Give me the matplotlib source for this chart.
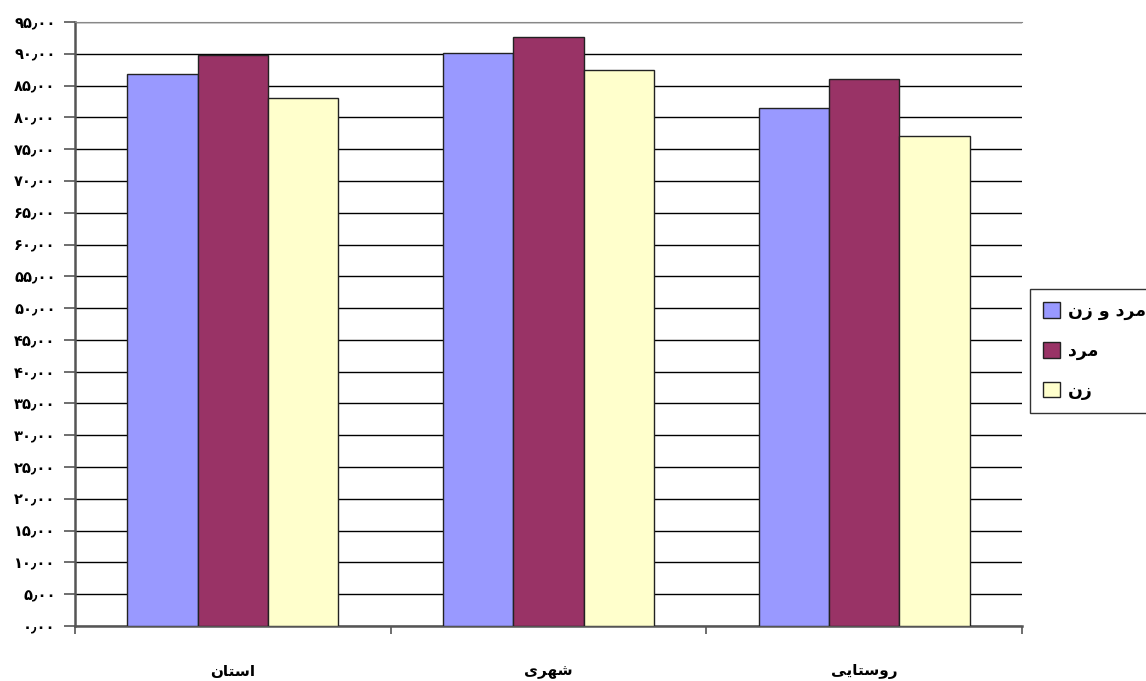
import numpy as np
import matplotlib
matplotlib.use('Agg')
import matplotlib.pyplot as plt
import matplotlib.patches as mpatches

# ── Data ───────────────────────────────────────────────────────────────────
categories = ['استان', 'شهری', 'روستایی']
series_names = ['مرد و زن', 'مرد', 'زن']
both_vals = [86.8, 90.1, 81.5]
men_vals = [89.8, 92.7, 86.0]
women_vals = [83.0, 87.4, 77.0]
y_ticks = list(range(0, 100, 5))

colors = ['#9999FF', '#993366', '#FFFFCC']

# ── minimal Persian shaping (matplotlib has no text shaping) ───────────────
FORMS = {  # isolated, final, initial, medial
    'ا': ('\uFE8D', '\uFE8E', None, None),
    'د': ('\uFEA9', '\uFEAA', None, None),
    'ر': ('\uFEAD', '\uFEAE', None, None),
    'ز': ('\uFEAF', '\uFEB0', None, None),
    'و': ('\uFEED', '\uFEEE', None, None),
    'س': ('\uFEB1', '\uFEB2', '\uFEB3', '\uFEB4'),
    'ش': ('\uFEB5', '\uFEB6', '\uFEB7', '\uFEB8'),
    'ت': ('\uFE95', '\uFE96', '\uFE97', '\uFE98'),
    'ن': ('\uFEE5', '\uFEE6', '\uFEE7', '\uFEE8'),
    'ه': ('\uFEE9', '\uFEEA', '\uFEEB', '\uFEEC'),
    'م': ('\uFEE1', '\uFEE2', '\uFEE3', '\uFEE4'),
    'ی': ('\uFEEF', '\uFEF0', '\uFEF3', '\uFEF4'),
}


def shape(text):
    out = []
    for i, ch in enumerate(text):
        if ch not in FORMS:
            out.append(ch)
            continue
        prev = text[i - 1] if i > 0 else ' '
        nxt = text[i + 1] if i + 1 < len(text) else ' '
        join_prev = prev in FORMS and FORMS[prev][2] is not None
        join_next = nxt in FORMS and FORMS[ch][2] is not None
        iso, fin, ini, med = FORMS[ch]
        if join_prev and join_next:
            out.append(med)
        elif join_prev:
            out.append(fin)
        elif join_next:
            out.append(ini)
        else:
            out.append(iso)
    return ''.join(reversed(out))


def fa_num(v):
    s = f'{v:.2f}'.replace('.', '\u066B')
    return s.translate(str.maketrans('0123456789', '۰۱۲۳۴۵۶۷۸۹'))


# ── Figure ─────────────────────────────────────────────────────────────────
fig = plt.figure(figsize=(11.46, 6.81), dpi=100)
fig.patch.set_facecolor('white')
ax = fig.add_axes([75 / 1146, 55 / 681, 947 / 1146, 604 / 681])

x = np.arange(len(categories))
w = 0.2225
for k, (vals, col, name) in enumerate(zip([both_vals, men_vals, women_vals],
                                           colors, series_names)):
    ax.bar(x + (k - 1) * w, vals, width=w, color=col, edgecolor='#222222',
           linewidth=1.0, zorder=3, label=shape(name))

ax.set_xlim(-0.5, len(categories) - 0.5)
ax.set_ylim(0, 95)
ax.set_yticks(y_ticks)
ax.set_yticklabels([fa_num(v) for v in y_ticks], fontsize=10.5,
                   fontweight='bold')
ax.yaxis.grid(True, color='black', linewidth=1.0, zorder=0)
ax.set_axisbelow(True)

ax.set_xticks(np.arange(-0.5, len(categories), 1.0))
ax.set_xticklabels([])
ax.tick_params(axis='x', length=6, color='#555555', width=1.2)
ax.tick_params(axis='y', length=8, color='#555555', width=1.2, pad=6)
for i, c in enumerate(categories):
    ax.text(i, -7.1, shape(c), ha='center', va='center', fontsize=11,
            fontweight='bold')

ax.spines['left'].set_color('#555555')
ax.spines['left'].set_linewidth(1.8)
ax.spines['bottom'].set_color('#555555')
ax.spines['bottom'].set_linewidth(1.8)
ax.spines['top'].set_color('#888888')
ax.spines['right'].set_visible(False)

handles = [mpatches.Patch(facecolor=c, edgecolor='#222222', label=shape(n))
           for c, n in zip(colors, series_names)]
leg = fig.legend(handles=handles, loc='upper left',
                 bbox_to_anchor=(1030 / 1146, 1 - 289 / 681),
                 borderaxespad=0,
                 prop={'size': 12.5, 'weight': 'bold'}, frameon=True,
                 fancybox=False, edgecolor='black', handlelength=1.0,
                 handleheight=1.0, labelspacing=1.25, borderpad=0.75,
                 handletextpad=0.45)
leg.get_frame().set_linewidth(1.0)

fig.savefig('out.png', dpi=100, facecolor='white')
